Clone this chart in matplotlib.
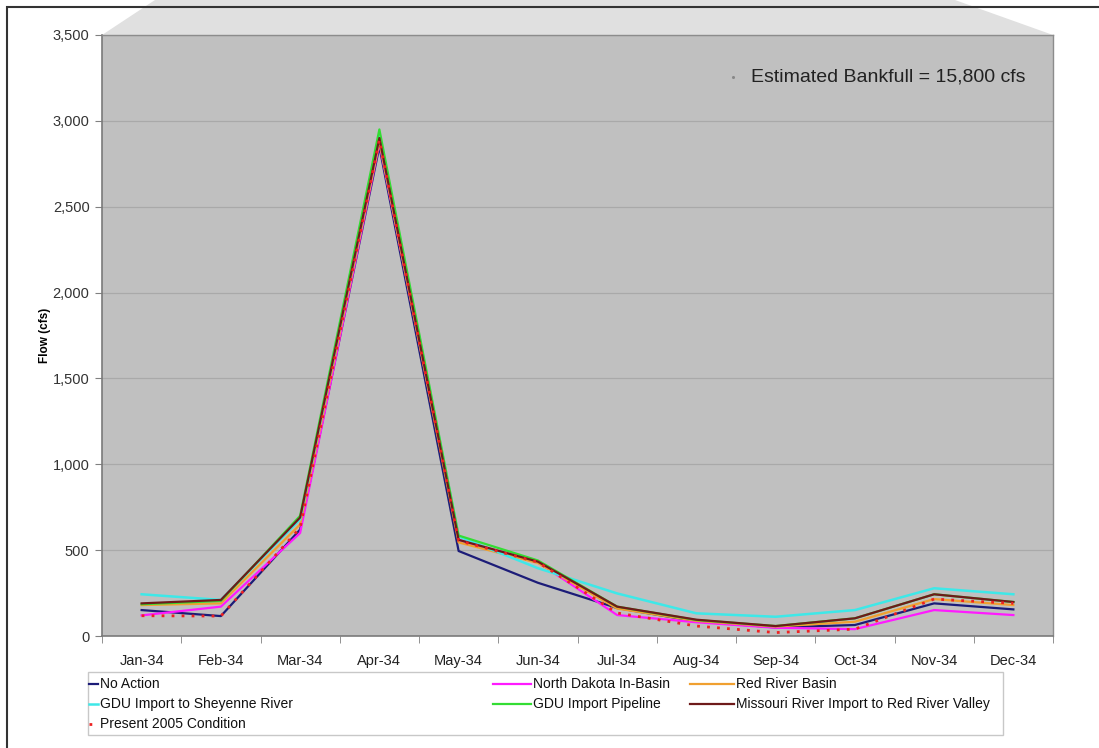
import matplotlib.pyplot as plt
from matplotlib.lines import Line2D
from matplotlib.patches import Polygon, Rectangle
from matplotlib.ticker import FuncFormatter, MultipleLocator

plt.rcParams["font.family"] = ["Liberation Sans", "DejaVu Sans"]

months = ["Jan-34", "Feb-34", "Mar-34", "Apr-34", "May-34", "Jun-34",
          "Jul-34", "Aug-34", "Sep-34", "Oct-34", "Nov-34", "Dec-34"]

no_action = [151, 116, 620, 2850, 495, 310, 163, 85, 50, 64, 190, 155]
nd_in_basin = [120, 171, 600, 2870, 560, 430, 122, 80, 48, 40, 151, 122]
red_river_basin = [180, 190, 650, 2880, 545, 425, 160, 88, 55, 83, 215, 180]
gdu_sheyenne = [243, 210, 680, 2910, 580, 395, 248, 132, 112, 151, 278, 243]
gdu_pipeline = [185, 204, 700, 2950, 585, 440, 171, 93, 58, 103, 243, 198]
missouri_import = [190, 210, 690, 2900, 560, 433, 171, 95, 58, 103, 243, 198]
present_2005 = [118, 116, 630, 2890, 555, 430, 134, 58, 20, 40, 215, 190]

series_names = ["No Action", "North Dakota In-Basin", "Red River Basin",
                "GDU Import to Sheyenne River", "GDU Import Pipeline",
                "Missouri River Import to Red River Valley", "Present 2005 Condition"]
series_values = [no_action, nd_in_basin, red_river_basin, gdu_sheyenne,
                 gdu_pipeline, missouri_import, present_2005]

styles = {
    "No Action": dict(color="#1c1c78", lw=1.6, ls="-"),
    "North Dakota In-Basin": dict(color="#ff1aff", lw=1.6, ls="-"),
    "Red River Basin": dict(color="#f0a030", lw=1.6, ls="-"),
    "GDU Import to Sheyenne River": dict(color="#3ee8e8", lw=1.8, ls="-"),
    "GDU Import Pipeline": dict(color="#33dd33", lw=1.6, ls="-"),
    "Missouri River Import to Red River Valley": dict(color="#6e1a1a", lw=1.6, ls="-"),
    "Present 2005 Condition": dict(color="#ee2222", lw=2.0, ls=(0, (1, 2.6))),
}

W, H = 1099, 748


def fx(px):
    return px / W


def fy(py):
    return 1 - py / H


fig = plt.figure(figsize=(W / 100, H / 100), dpi=100)

# pseudo-3D back wall above the plot area
fig.add_artist(Polygon([(fx(102), fy(35)), (fx(155), fy(0)), (fx(955), fy(0)), (fx(1053), fy(35))],
                       closed=True, transform=fig.transFigure, facecolor="#e0e0e0",
                       edgecolor="none", zorder=0))
# outer chart frame
fig.add_artist(Rectangle((fx(7), fy(760)), fx(1110), fy(7) - fy(760), transform=fig.transFigure,
                         facecolor="none", edgecolor="#333333", lw=1.5, zorder=1))

ax = fig.add_axes([fx(102), fy(636), fx(1053) - fx(102), fy(35) - fy(636)])
ax.set_facecolor("#c0c0c0")

x = list(range(len(months)))
for name, vals in zip(series_names, series_values):
    st = styles[name]
    ax.plot(x, vals, color=st["color"], lw=st["lw"], linestyle=st["ls"], label=name)

ax.set_xlim(-0.5, len(months) - 0.5)
ax.set_ylim(0, 3500)
ax.yaxis.set_major_locator(MultipleLocator(500))
ax.yaxis.set_major_formatter(FuncFormatter(lambda v, p: f"{int(v):,}"))
ax.grid(axis="y", color="#a9a9a9", lw=0.9)
ax.set_axisbelow(True)

ax.set_xticks(x)
ax.set_xticklabels(months)
ax.set_xticks([i - 0.5 for i in range(len(months) + 1)], minor=True)
ax.tick_params(axis="x", which="major", length=0, pad=13, labelsize=10.5, labelcolor="#222222")
ax.tick_params(axis="x", which="minor", length=5, color="#808080", direction="out")
ax.tick_params(axis="y", length=5, color="#808080", labelsize=10.5, labelcolor="#333333", pad=4)

for side in ["left", "bottom"]:
    ax.spines[side].set_color("#7a7a7a")
    ax.spines[side].set_linewidth(1.2)
for side in ["top", "right"]:
    ax.spines[side].set_color("#8c8c8c")
    ax.spines[side].set_linewidth(1.0)

ax.set_ylabel("Flow (cfs)", fontsize=8.5, fontweight="bold", labelpad=1)

# bankfull note
ax.text(0.9706, 0.930, "Estimated Bankfull = 15,800 cfs", transform=ax.transAxes,
        ha="right", va="center", fontsize=14, color="#222222")
ax.plot([0.6635], [0.930], transform=ax.transAxes, marker="o", ms=1.2, color="#888888")

# legend, laid out like the spreadsheet legend (row-major, 3 columns)
fig.add_artist(Rectangle((fx(88), fy(735)), fx(1003) - fx(88), fy(672) - fy(735),
                         transform=fig.transFigure, facecolor="white",
                         edgecolor="#c8c8c8", lw=1.0, zorder=1))
col_handles = [(89, 98), (493, 531), (690, 734)]
row_y = [684, 704, 724]
for i, name in enumerate(series_names):
    r, c = divmod(i, 3)
    h0, h1 = col_handles[c]
    st = styles[name]
    fig.add_artist(Line2D([fx(h0), fx(h1)], [fy(row_y[r]), fy(row_y[r])], transform=fig.transFigure,
                          color=st["color"], lw=st["lw"], linestyle=st["ls"], zorder=2))
    fig.text(fx(h1 + 2), fy(row_y[r]), name, ha="left", va="center", fontsize=10,
             color="#111111", zorder=2)

fig.savefig("out.png", dpi=100)
